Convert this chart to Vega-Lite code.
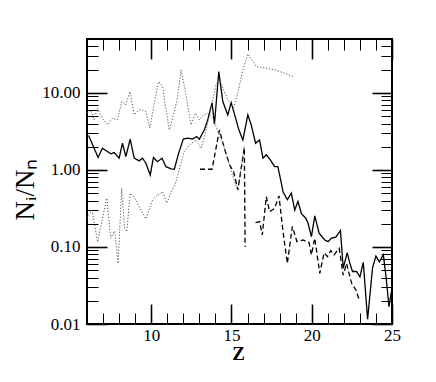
{
  "$schema": "https://vega.github.io/schema/vega-lite/v6.json",
  "width": 305,
  "height": 285,
  "autosize": "none",
  "padding": {"left": 87, "top": 39, "right": 44, "bottom": 58},
  "background": "white",
  "config": {
    "font": "Liberation Serif",
    "view": {"stroke": "black", "strokeWidth": 2},
    "axis": {"grid": false, "domain": false, "tickColor": "black", "labelColor": "black", "titleColor": "black", "labelFont": "Liberation Serif", "titleFont": "Liberation Serif", "labelFlush": false}
  },
  "data": {"values": [
    {"s":"solid","g":"a","z":6.1,"r":2.8},{"s":"solid","g":"a","z":6.69,"r":1.45},{"s":"solid","g":"a","z":6.96,"r":1.91},{"s":"solid","g":"a","z":7.27,"r":1.73},{"s":"solid","g":"a","z":7.48,"r":1.62},{"s":"solid","g":"a","z":7.69,"r":1.68},{"s":"solid","g":"a","z":8.0,"r":1.42},{"s":"solid","g":"a","z":8.21,"r":2.22},{"s":"solid","g":"a","z":8.42,"r":1.49},{"s":"solid","g":"a","z":8.69,"r":2.51},{"s":"solid","g":"a","z":8.94,"r":1.42},{"s":"solid","g":"a","z":9.25,"r":1.31},{"s":"solid","g":"a","z":9.46,"r":1.42},{"s":"solid","g":"a","z":9.67,"r":1.22},{"s":"solid","g":"a","z":9.94,"r":0.86},{"s":"solid","g":"a","z":10.14,"r":1.45},{"s":"solid","g":"a","z":10.39,"r":1.28},{"s":"solid","g":"a","z":10.67,"r":1.42},{"s":"solid","g":"a","z":10.92,"r":1.1},{"s":"solid","g":"a","z":11.23,"r":1.03},{"s":"solid","g":"a","z":11.44,"r":1.02},{"s":"solid","g":"a","z":11.71,"r":1.65},{"s":"solid","g":"a","z":12.0,"r":2.51},{"s":"solid","g":"a","z":12.27,"r":2.58},{"s":"solid","g":"a","z":12.58,"r":2.51},{"s":"solid","g":"a","z":12.83,"r":2.71},{"s":"solid","g":"a","z":13.0,"r":2.51},{"s":"solid","g":"a","z":13.31,"r":3.31},{"s":"solid","g":"a","z":13.52,"r":4.46},{"s":"solid","g":"a","z":13.79,"r":7.48},{"s":"solid","g":"a","z":13.94,"r":3.93},{"s":"solid","g":"a","z":14.21,"r":18.9},{"s":"solid","g":"a","z":14.46,"r":7.71},{"s":"solid","g":"a","z":14.77,"r":5.18},{"s":"solid","g":"a","z":14.98,"r":7.48},{"s":"solid","g":"a","z":15.29,"r":4.46},{"s":"solid","g":"a","z":15.46,"r":3.31},{"s":"solid","g":"a","z":15.71,"r":2.45},{"s":"solid","g":"a","z":16.02,"r":5.18},{"s":"solid","g":"a","z":16.23,"r":3.84},{"s":"solid","g":"a","z":16.5,"r":2.22},{"s":"solid","g":"a","z":16.75,"r":2.45},{"s":"solid","g":"a","z":16.96,"r":1.42},{"s":"solid","g":"a","z":17.17,"r":1.57},{"s":"solid","g":"a","z":17.42,"r":1.35},{"s":"solid","g":"a","z":17.69,"r":1.1},{"s":"solid","g":"a","z":17.89,"r":1.1},{"s":"solid","g":"a","z":18.11,"r":0.67},{"s":"solid","g":"a","z":18.21,"r":0.52},{"s":"solid","g":"a","z":18.48,"r":0.41},{"s":"solid","g":"a","z":18.73,"r":0.5},{"s":"solid","g":"a","z":18.94,"r":0.3},{"s":"solid","g":"a","z":19.14,"r":0.39},{"s":"solid","g":"a","z":19.36,"r":0.27},{"s":"solid","g":"a","z":19.63,"r":0.236},{"s":"solid","g":"a","z":19.77,"r":0.203},{"s":"solid","g":"a","z":19.98,"r":0.136},{"s":"solid","g":"a","z":20.19,"r":0.253},{"s":"solid","g":"a","z":20.46,"r":0.151},{"s":"solid","g":"a","z":20.81,"r":0.123},{"s":"solid","g":"a","z":21.02,"r":0.117},{"s":"solid","g":"a","z":21.23,"r":0.13},{"s":"solid","g":"a","z":21.5,"r":0.134},{"s":"solid","g":"a","z":21.79,"r":0.163},{"s":"solid","g":"a","z":21.96,"r":0.053},{"s":"solid","g":"a","z":22.21,"r":0.084},{"s":"solid","g":"a","z":22.38,"r":0.061},{"s":"solid","g":"a","z":22.54,"r":0.048},{"s":"solid","g":"a","z":22.79,"r":0.048},{"s":"solid","g":"a","z":23.0,"r":0.041},{"s":"solid","g":"a","z":23.21,"r":0.063},{"s":"solid","g":"a","z":23.48,"r":0.0115},{"s":"solid","g":"a","z":23.79,"r":0.054},{"s":"solid","g":"a","z":24.0,"r":0.076},{"s":"solid","g":"a","z":24.21,"r":0.064},{"s":"solid","g":"a","z":24.46,"r":0.079},{"s":"solid","g":"a","z":24.63,"r":0.041},{"s":"solid","g":"a","z":24.81,"r":0.0168},{"s":"solid","g":"a","z":24.98,"r":0.0277},
    {"s":"dashed","g":"a","z":13.04,"r":1.02},{"s":"dashed","g":"a","z":13.79,"r":1.02},{"s":"dashed","g":"a","z":14.25,"r":3.3},{"s":"dashed","g":"a","z":14.56,"r":1.9},{"s":"dashed","g":"a","z":14.88,"r":1.16},{"s":"dashed","g":"a","z":15.13,"r":0.95},{"s":"dashed","g":"a","z":15.4,"r":0.55},{"s":"dashed","g":"a","z":15.8,"r":1.95},{"s":"dashed","g":"a","z":15.85,"r":0.1},
    {"s":"dashed","g":"b","z":16.5,"r":0.207},{"s":"dashed","g":"b","z":16.75,"r":0.213},{"s":"dashed","g":"b","z":16.92,"r":0.143},{"s":"dashed","g":"b","z":17.17,"r":0.45},{"s":"dashed","g":"b","z":17.38,"r":0.287},{"s":"dashed","g":"b","z":17.69,"r":0.318},{"s":"dashed","g":"b","z":17.96,"r":0.46},{"s":"dashed","g":"b","z":18.21,"r":0.158},{"s":"dashed","g":"b","z":18.48,"r":0.061},{"s":"dashed","g":"b","z":18.79,"r":0.184},{"s":"dashed","g":"b","z":19.08,"r":0.117},{"s":"dashed","g":"b","z":19.46,"r":0.123},{"s":"dashed","g":"b","z":19.83,"r":0.114},{"s":"dashed","g":"b","z":19.98,"r":0.079},{"s":"dashed","g":"b","z":20.19,"r":0.13},{"s":"dashed","g":"b","z":20.5,"r":0.0455},{"s":"dashed","g":"b","z":20.77,"r":0.084},{"s":"dashed","g":"b","z":20.98,"r":0.075},{"s":"dashed","g":"b","z":21.19,"r":0.0895},{"s":"dashed","g":"b","z":21.39,"r":0.079},{"s":"dashed","g":"b","z":21.71,"r":0.096},{"s":"dashed","g":"b","z":21.96,"r":0.043},{"s":"dashed","g":"b","z":22.17,"r":0.061},{"s":"dashed","g":"b","z":22.48,"r":0.034},{"s":"dashed","g":"b","z":22.75,"r":0.0277},{"s":"dashed","g":"b","z":22.96,"r":0.0205},
    {"s":"dotted","g":"lo","z":6.0,"r":0.238},{"s":"dotted","g":"lo","z":6.31,"r":0.3},{"s":"dotted","g":"lo","z":6.66,"r":0.116},{"s":"dotted","g":"lo","z":7.23,"r":0.43},{"s":"dotted","g":"lo","z":7.48,"r":0.13},{"s":"dotted","g":"lo","z":7.72,"r":0.161},{"s":"dotted","g":"lo","z":7.94,"r":0.061},{"s":"dotted","g":"lo","z":8.16,"r":0.58},{"s":"dotted","g":"lo","z":8.34,"r":0.171},{"s":"dotted","g":"lo","z":8.48,"r":0.158},{"s":"dotted","g":"lo","z":8.69,"r":0.5},{"s":"dotted","g":"lo","z":8.94,"r":0.44},{"s":"dotted","g":"lo","z":9.67,"r":0.231},{"s":"dotted","g":"lo","z":10.09,"r":0.41},{"s":"dotted","g":"lo","z":10.34,"r":0.46},{"s":"dotted","g":"lo","z":10.72,"r":0.52},{"s":"dotted","g":"lo","z":10.97,"r":0.37},{"s":"dotted","g":"lo","z":11.25,"r":0.52},{"s":"dotted","g":"lo","z":11.5,"r":0.66},{"s":"dotted","g":"lo","z":12.06,"r":1.73},{"s":"dotted","g":"lo","z":12.38,"r":2.11},{"s":"dotted","g":"lo","z":12.79,"r":2.45},{"s":"dotted","g":"lo","z":13.11,"r":1.91},{"s":"dotted","g":"lo","z":13.42,"r":3.31},{"s":"dotted","g":"lo","z":13.73,"r":6.32},{"s":"dotted","g":"lo","z":14.04,"r":12.7},{"s":"dotted","g":"lo","z":14.25,"r":14.7},{"s":"dotted","g":"lo","z":14.77,"r":8.1},{"s":"dotted","g":"lo","z":15.13,"r":6.4},{"s":"dotted","g":"lo","z":15.39,"r":9.9},{"s":"dotted","g":"lo","z":15.71,"r":19.9},{"s":"dotted","g":"lo","z":16.02,"r":32},{"s":"dotted","g":"lo","z":16.54,"r":22},{"s":"dotted","g":"lo","z":17.06,"r":21},{"s":"dotted","g":"lo","z":17.69,"r":19.9},{"s":"dotted","g":"lo","z":18.31,"r":18},{"s":"dotted","g":"lo","z":18.83,"r":16.3},
    {"s":"dotted","g":"up","z":6.0,"r":5.5},{"s":"dotted","g":"up","z":6.23,"r":6.0},{"s":"dotted","g":"up","z":6.44,"r":4.46},{"s":"dotted","g":"up","z":6.64,"r":6.3},{"s":"dotted","g":"up","z":6.96,"r":4.69},{"s":"dotted","g":"up","z":7.27,"r":3.84},{"s":"dotted","g":"up","z":7.58,"r":4.69},{"s":"dotted","g":"up","z":7.89,"r":4.46},{"s":"dotted","g":"up","z":8.17,"r":7.7},{"s":"dotted","g":"up","z":8.42,"r":6.98},{"s":"dotted","g":"up","z":8.67,"r":10.4},{"s":"dotted","g":"up","z":8.94,"r":5.18},{"s":"dotted","g":"up","z":9.25,"r":6.0},{"s":"dotted","g":"up","z":9.46,"r":6.0},{"s":"dotted","g":"up","z":9.67,"r":5.7},{"s":"dotted","g":"up","z":9.92,"r":3.48},{"s":"dotted","g":"up","z":10.19,"r":7.35},{"s":"dotted","g":"up","z":10.46,"r":14.0},{"s":"dotted","g":"up","z":10.71,"r":12.1},{"s":"dotted","g":"up","z":10.92,"r":6.0},{"s":"dotted","g":"up","z":11.13,"r":3.31},{"s":"dotted","g":"up","z":11.39,"r":5.18},{"s":"dotted","g":"up","z":11.61,"r":8.1},{"s":"dotted","g":"up","z":11.86,"r":19.9},{"s":"dotted","g":"up","z":12.13,"r":10.4},{"s":"dotted","g":"up","z":12.48,"r":3.84},{"s":"dotted","g":"up","z":12.75,"r":5.45},{"s":"dotted","g":"up","z":13.0,"r":4.46},{"s":"dotted","g":"up","z":13.25,"r":5.18},{"s":"dotted","g":"up","z":13.52,"r":5.45},{"s":"dotted","g":"up","z":13.83,"r":4.69},{"s":"dotted","g":"up","z":14.25,"r":2.85},{"s":"dotted","g":"up","z":14.56,"r":1.91},{"s":"dotted","g":"up","z":14.88,"r":1.16},{"s":"dotted","g":"up","z":15.19,"r":0.7},{"s":"dotted","g":"up","z":15.39,"r":0.55},{"s":"dotted","g":"up","z":15.6,"r":1.05},{"s":"dotted","g":"up","z":15.81,"r":2.11}
  ]},
  "layer": [
    {
      "transform": [{"filter": "datum.s == 'solid'"}],
      "mark": {"type": "line", "color": "black", "strokeWidth": 1.3, "clip": true},
      "encoding": {
        "x": {"field": "z", "type": "quantitative", "scale": {"domain": [6, 25], "nice": false, "zero": false}, "axis": null},
        "y": {"field": "r", "type": "quantitative", "scale": {"type": "log", "domain": [0.01, 50], "nice": false}, "axis": null},
        "order": {"field": "z"}
      }
    },
    {
      "transform": [{"filter": "datum.s == 'dashed'"}],
      "mark": {"type": "line", "color": "black", "strokeWidth": 1.3, "strokeDash": [5, 3], "clip": true},
      "encoding": {
        "x": {"field": "z", "type": "quantitative", "scale": {"domain": [6, 25], "nice": false, "zero": false}, "axis": null},
        "y": {"field": "r", "type": "quantitative", "scale": {"type": "log", "domain": [0.01, 50], "nice": false}, "axis": null},
        "detail": {"field": "g"},
        "order": {"field": "z"}
      }
    },
    {
      "transform": [{"filter": "datum.s == 'dotted'"}],
      "mark": {"type": "line", "color": "#555", "strokeWidth": 1, "strokeDash": [1.2, 1.8], "clip": true},
      "encoding": {
        "x": {"field": "z", "type": "quantitative", "scale": {"domain": [6, 25], "nice": false, "zero": false}, "axis": null},
        "y": {"field": "r", "type": "quantitative", "scale": {"type": "log", "domain": [0.01, 50], "nice": false}, "axis": null},
        "detail": {"field": "g"},
        "order": {"field": "z"}
      }
    },
    {
      "mark": {"type": "point", "opacity": 0},
      "encoding": {
        "x": {"field": "z", "type": "quantitative", "scale": {"domain": [6, 25], "nice": false, "zero": false},
          "axis": {"orient": "bottom", "values": [10, 15, 20, 25], "tickSize": -20, "tickWidth": 1.6, "labelPadding": 23, "labelFont": "Liberation Serif", "labelFontSize": 17, "title": "Z", "titleFont": "Liberation Serif", "titleFontSize": 19, "titleFontWeight": "bold", "titleX": 151, "titleY": 29, "titleBaseline": "middle", "titleAlign": "center"}},
        "y": {"field": "r", "type": "quantitative", "scale": {"type": "log", "domain": [0.01, 50], "nice": false},
          "axis": {"orient": "left", "values": [0.01, 0.1, 1, 10], "format": ".2f", "tickSize": -20, "tickWidth": 1.6, "labelPadding": 27, "labelFont": "Liberation Serif", "labelFontSize": 17, "title": "Nᵢ/Nₙ", "titleFont": "Liberation Serif", "titleFontSize": 27, "titleFontWeight": "normal", "titleX": -62, "titleY": 150, "titleBaseline": "middle", "titleAlign": "center", "titleAngle": -90}}
      }
    },
    {
      "mark": {"type": "point", "opacity": 0},
      "encoding": {
        "x": {"field": "z", "type": "quantitative", "scale": {"domain": [6, 25], "nice": false, "zero": false},
          "axis": {"orient": "top", "values": [10, 15, 20, 25], "tickSize": -20, "tickWidth": 1.6, "labels": false, "title": null}},
        "y": {"field": "r", "type": "quantitative", "scale": {"type": "log", "domain": [0.01, 50], "nice": false},
          "axis": {"orient": "right", "values": [0.01, 0.1, 1, 10], "tickSize": -20, "tickWidth": 1.6, "labels": false, "title": null}}
      }
    },
    {
      "mark": {"type": "point", "opacity": 0},
      "encoding": {
        "x": {"field": "z", "type": "quantitative", "scale": {"domain": [6, 25], "nice": false, "zero": false},
          "axis": {"orient": "bottom", "values": [7, 8, 9, 11, 12, 13, 14, 16, 17, 18, 19, 21, 22, 23, 24], "tickSize": -11, "tickWidth": 1, "labels": false, "title": null}},
        "y": {"field": "r", "type": "quantitative", "scale": {"type": "log", "domain": [0.01, 50], "nice": false},
          "axis": {"orient": "left", "values": [0.02, 0.03, 0.04, 0.05, 0.06, 0.07, 0.08, 0.09, 0.2, 0.3, 0.4, 0.5, 0.6, 0.7, 0.8, 0.9, 2, 3, 4, 5, 6, 7, 8, 9, 20, 30, 40], "tickSize": -11, "tickWidth": 1, "labels": false, "title": null}}
      }
    },
    {
      "mark": {"type": "point", "opacity": 0},
      "encoding": {
        "x": {"field": "z", "type": "quantitative", "scale": {"domain": [6, 25], "nice": false, "zero": false},
          "axis": {"orient": "top", "values": [7, 8, 9, 11, 12, 13, 14, 16, 17, 18, 19, 21, 22, 23, 24], "tickSize": -11, "tickWidth": 1, "labels": false, "title": null}},
        "y": {"field": "r", "type": "quantitative", "scale": {"type": "log", "domain": [0.01, 50], "nice": false},
          "axis": {"orient": "right", "values": [0.02, 0.03, 0.04, 0.05, 0.06, 0.07, 0.08, 0.09, 0.2, 0.3, 0.4, 0.5, 0.6, 0.7, 0.8, 0.9, 2, 3, 4, 5, 6, 7, 8, 9, 20, 30, 40], "tickSize": -11, "tickWidth": 1, "labels": false, "title": null}}
      }
    }
  ],
  "resolve": {"scale": {"x": "shared", "y": "shared"}, "axis": {"x": "independent", "y": "independent"}}
}
